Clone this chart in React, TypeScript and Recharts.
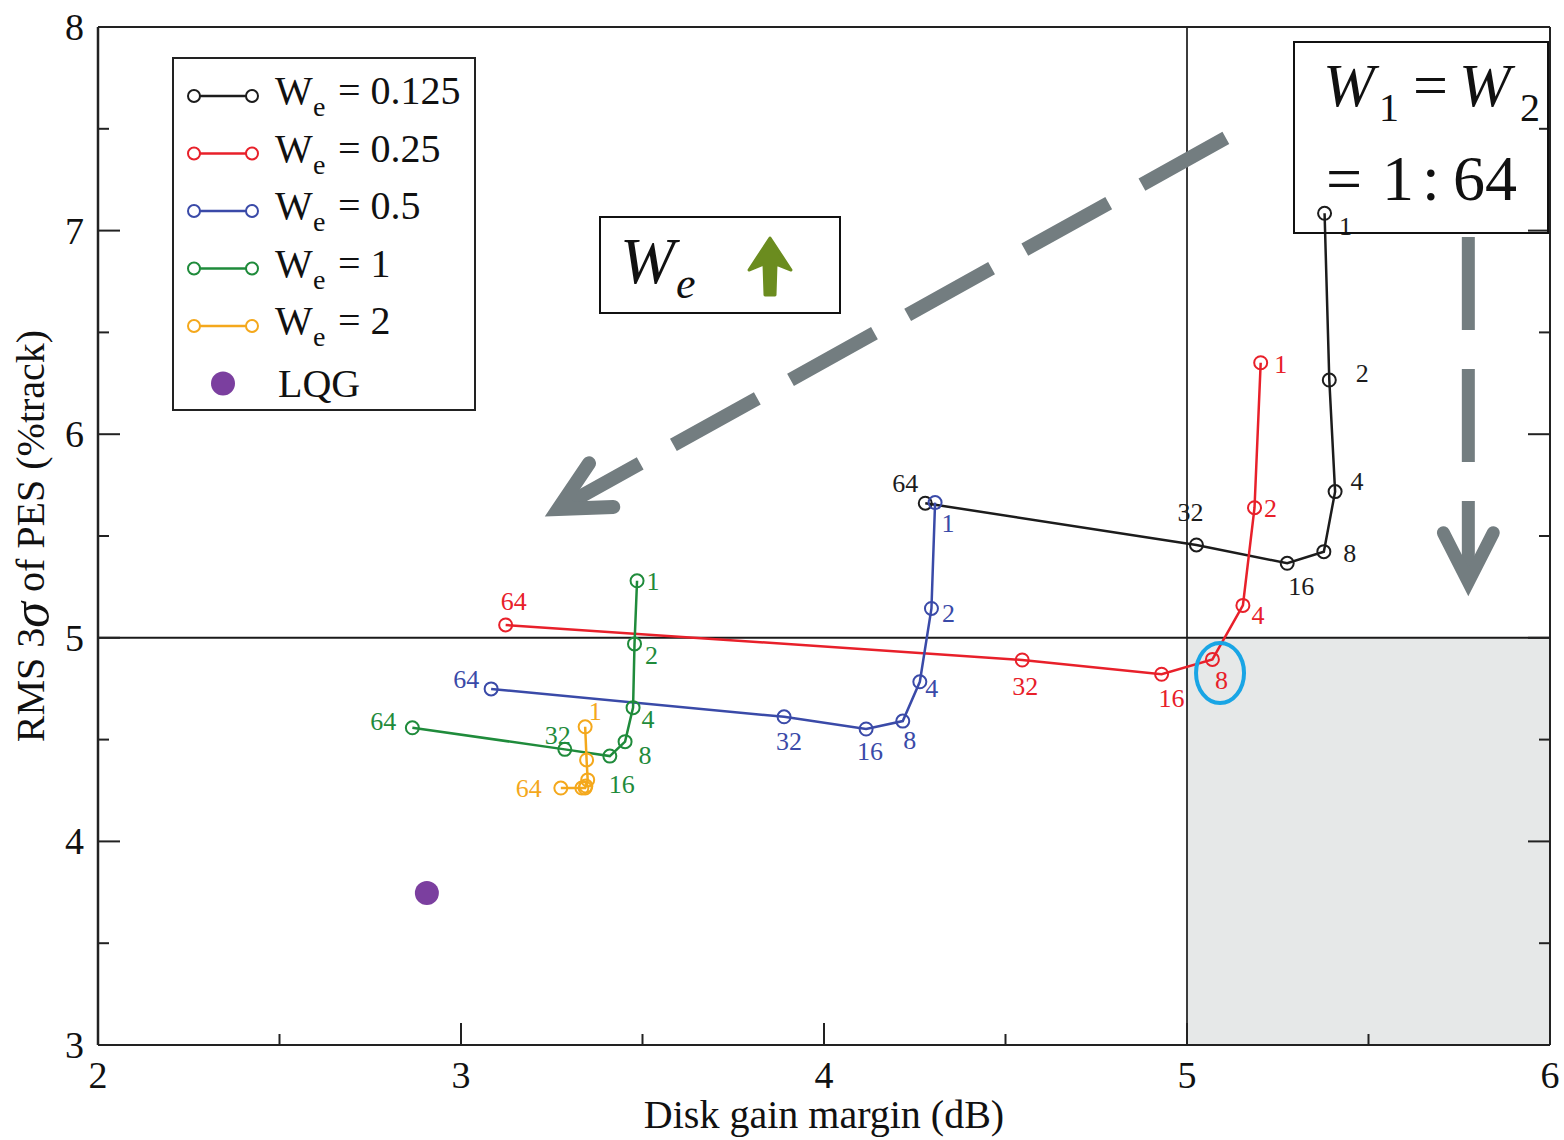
import React from "react";
import {
  ScatterChart,
  Scatter,
  XAxis,
  YAxis,
  ReferenceArea,
  ReferenceLine,
  ReferenceDot,
  Legend,
} from "recharts";

const FONT = '"Liberation Serif", "Times New Roman", serif';

// W1 = W2 weight ratio of each point (1:1 ... 1:64)
const weightLabels = [1, 2, 4, 8, 16, 32, 64];

// We = 0.125
const we0125X = [5.379, 5.392, 5.408, 5.377, 5.276, 5.026, 4.279];
const we0125Y = [7.085, 6.266, 5.718, 5.423, 5.366, 5.456, 5.661];
// We = 0.25
const we025X = [5.203, 5.186, 5.154, 5.07, 4.93, 4.546, 3.123];
const we025Y = [6.351, 5.639, 5.159, 4.894, 4.821, 4.891, 5.063];
// We = 0.5
const we05X = [4.306, 4.296, 4.264, 4.217, 4.116, 3.89, 3.083];
const we05Y = [5.664, 5.144, 4.784, 4.591, 4.552, 4.612, 4.749];
// We = 1
const we1X = [3.485, 3.478, 3.474, 3.452, 3.41, 3.286, 2.866];
const we1Y = [5.28, 4.97, 4.657, 4.49, 4.419, 4.452, 4.558];
// We = 2
const we2X = [3.342, 3.346, 3.349, 3.344, 3.342, 3.333, 3.275];
const we2Y = [4.563, 4.4, 4.302, 4.272, 4.262, 4.262, 4.262];
// LQG
const lqgX = [2.906];
const lqgY = [3.747];

const xTicks = [2, 2.5, 3, 3.5, 4, 4.5, 5, 5.5, 6];
const yTicks = [3, 3.5, 4, 4.5, 5, 5.5, 6, 6.5, 7, 7.5, 8];

// annotation anchors (data coords)
const diagArrowX = [5.107, 3.268];
const diagArrowY = [7.455, 5.633];
const vertArrowX = [5.775, 5.775];
const vertArrowY = [6.969, 5.275];
const chosenX = 5.091;
const chosenY = 4.827;

const GRAY = "#737d80";

const series = [
  { id: "w0125", name: "0.125", color: "#1c1c1c", xs: we0125X, ys: we0125Y },
  { id: "w025", name: "0.25", color: "#e8202a", xs: we025X, ys: we025Y },
  { id: "w05", name: "0.5", color: "#3a4aa8", xs: we05X, ys: we05Y },
  { id: "w1", name: "1", color: "#1f8b3b", xs: we1X, ys: we1Y },
  { id: "w2", name: "2", color: "#f4a81c", xs: we2X, ys: we2Y },
];

// where each point label sits relative to its marker (px)
const labelOffsets: Record<string, Record<number, [number, number]>> = {
  w0125: { 1: [21, 13], 2: [33, -7], 4: [22, -10], 8: [26, 2], 16: [14, 23], 32: [-6, -32], 64: [-20, -20] },
  w025: { 1: [20, 2], 2: [16, 1], 4: [15, 10], 8: [9, 21], 16: [10, 24], 32: [3, 27], 64: [8, -23] },
  w05: { 1: [13, 21], 2: [17, 5], 4: [12, 7], 8: [7, 19], 16: [4, 22], 32: [5, 25], 64: [-25, -9] },
  w1: { 1: [16, 1], 2: [17, 12], 4: [15, 12], 8: [20, 14], 16: [12, 28], 32: [-7, -14], 64: [-29, -6] },
  w2: { 1: [10, -15], 64: [-32, 0] },
};

const toPoints = (xs: number[], ys: number[]) =>
  xs.map((x, i) => ({ x, y: ys[i], n: weightLabels[i] }));

const makeShape = (id: string, color: string) => (props: any) => {
  const { cx, cy, payload } = props;
  const off = labelOffsets[id]?.[payload.n];
  return (
    <g>
      <circle cx={cx} cy={cy} r={6.5} fill="none" stroke={color} strokeWidth={2} />
      {off && (
        <text
          x={cx + off[0]}
          y={cy + off[1]}
          fill={color}
          fontSize={26}
          fontFamily={FONT}
          textAnchor="middle"
          dominantBaseline="central"
        >
          {payload.n}
        </text>
      )}
    </g>
  );
};

const makeTick = (side: string, showLabels: boolean) => (props: any) => {
  const { x, y, payload } = props;
  const v = payload.value;
  const major = Number.isInteger(v);
  const len = major ? 22 : 11;
  let x2 = x;
  let y2 = y;
  if (side === "bottom") y2 = y - len;
  else if (side === "top") y2 = y + len;
  else if (side === "left") x2 = x + len;
  else x2 = x - len;
  let label = null;
  if (showLabels && major) {
    label =
      side === "bottom" ? (
        <text x={x} y={y + 43} textAnchor="middle" fontSize={38} fontFamily={FONT} fill="#111">
          {v}
        </text>
      ) : (
        <text x={x - 14} y={y} textAnchor="end" dominantBaseline="central" fontSize={38} fontFamily={FONT} fill="#111">
          {v}
        </text>
      );
  }
  return (
    <g>
      <line x1={x} y1={y} x2={x2} y2={y2} stroke="#222" strokeWidth={2} />
      {label}
    </g>
  );
};

const xLabel = (props: any) => {
  const vb = props.viewBox;
  return (
    <text x={vb.x + vb.width / 2} y={1128} textAnchor="middle" fontSize={40} fontFamily={FONT} fill="#111">
      Disk gain margin (dB)
    </text>
  );
};

const yLabel = (props: any) => {
  const vb = props.viewBox;
  const cy = vb.y + vb.height / 2;
  return (
    <text
      x={30}
      y={cy}
      transform={`rotate(-90, 30, ${cy})`}
      textAnchor="middle"
      dominantBaseline="central"
      fontSize={40}
      fontFamily={FONT}
      fill="#111"
    >
      RMS 3<tspan fontStyle="italic" fontSize={52}>σ</tspan>
      {"   of PES (%track)"}
    </text>
  );
};

const DashedArrow = (props: any) => {
  const { x1, y1, x2, y2, w, dash } = props;
  const ang = Math.atan2(y1 - y2, x1 - x2);
  const L = 55;
  const a = (27 * Math.PI) / 180;
  const p1 = [x2 + L * Math.cos(ang + a), y2 + L * Math.sin(ang + a)];
  const p2 = [x2 + L * Math.cos(ang - a), y2 + L * Math.sin(ang - a)];
  return (
    <g>
      <line x1={x1} y1={y1} x2={x2} y2={y2} stroke={GRAY} strokeWidth={w} strokeDasharray={dash} />
      <path
        d={`M${p1[0]},${p1[1]} L${x2},${y2} L${p2[0]},${p2[1]}`}
        fill="none"
        stroke={GRAY}
        strokeWidth={w}
        strokeLinecap="round"
      />
    </g>
  );
};

const renderLegend = () => {
  const rows = series.map((s, i) => {
    const cy = 39 + i * 57.5;
    return (
      <g key={s.id}>
        <line x1={22} y1={cy} x2={80} y2={cy} stroke={s.color} strokeWidth={2.5} />
        <circle cx={22} cy={cy} r={6} fill="#fff" stroke={s.color} strokeWidth={2} />
        <circle cx={80} cy={cy} r={6} fill="#fff" stroke={s.color} strokeWidth={2} />
        <text x={103} y={cy + 8} fontSize={40} fontFamily={FONT} fill="#111">W</text>
        <text x={141} y={cy + 20} fontSize={28} fontFamily={FONT} fill="#111">e</text>
        <text x={166} y={cy + 8} fontSize={40} fontFamily={FONT} fill="#111">= {s.name}</text>
      </g>
    );
  });
  const lqgY0 = 39 + 5 * 57.5;
  return (
    <svg width={304} height={354} style={{ display: "block" }}>
      <rect x={1} y={1} width={302} height={352} fill="#fff" stroke="#222" strokeWidth={2} />
      {rows}
      <circle cx={51} cy={lqgY0} r={12} fill="#7b3f9f" />
      <text x={106} y={lqgY0 + 13} fontSize={40} fontFamily={FONT} fill="#111">LQG</text>
    </svg>
  );
};

export default function App() {
  return (
    <div style={{ position: "absolute", left: 0, top: 0, width: 1564, height: 1140, background: "#fff" }}>
      <ScatterChart width={1564} height={1140} margin={{ top: 26, right: 13, bottom: 0, left: 0 }}>
        <ReferenceArea x1={5} x2={6} y1={3} y2={5} fill="#e6e8e8" fillOpacity={1} stroke="none" />
        <ReferenceLine x={5} stroke="#3c3c3c" strokeWidth={2} />
        <ReferenceLine y={5} stroke="#1a1a1a" strokeWidth={2} />

        <XAxis
          dataKey="x"
          type="number"
          domain={[2, 6]}
          ticks={xTicks}
          interval={0}
          allowDataOverflow
          height={95}
          tickSize={0}
          tickMargin={0}
          tickLine={false}
          axisLine={{ stroke: "#222", strokeWidth: 2 }}
          tick={makeTick("bottom", true)}
          label={xLabel}
        />
        <XAxis
          xAxisId="top"
          orientation="top"
          type="number"
          domain={[2, 6]}
          ticks={xTicks}
          interval={0}
          allowDataOverflow
          height={1}
          tickSize={0}
          tickMargin={0}
          tickLine={false}
          axisLine={{ stroke: "#222", strokeWidth: 2 }}
          tick={makeTick("top", false)}
        />
        <YAxis
          dataKey="y"
          type="number"
          domain={[3, 8]}
          ticks={yTicks}
          interval={0}
          allowDataOverflow
          width={98}
          tickSize={0}
          tickMargin={0}
          tickLine={false}
          axisLine={{ stroke: "#222", strokeWidth: 2.5 }}
          tick={makeTick("left", true)}
          label={yLabel}
        />
        <YAxis
          yAxisId="right"
          orientation="right"
          type="number"
          domain={[3, 8]}
          ticks={yTicks}
          interval={0}
          allowDataOverflow
          width={1}
          tickSize={0}
          tickMargin={0}
          tickLine={false}
          axisLine={{ stroke: "#222", strokeWidth: 2 }}
          tick={makeTick("right", false)}
        />

        <ReferenceLine
          segment={[
            { x: diagArrowX[0], y: diagArrowY[0] },
            { x: diagArrowX[1], y: diagArrowY[1] },
          ]}
          ifOverflow="visible"
          shape={(p: any) => <DashedArrow {...p} w={14} dash="96 38" />}
        />
        <ReferenceLine
          segment={[
            { x: vertArrowX[0], y: vertArrowY[0] },
            { x: vertArrowX[1], y: vertArrowY[1] },
          ]}
          ifOverflow="visible"
          shape={(p: any) => <DashedArrow {...p} w={13} dash="93 39" />}
        />

        {series.map((s) => (
          <Scatter
            key={s.id}
            name={s.name}
            data={toPoints(s.xs, s.ys)}
            line={{ stroke: s.color, strokeWidth: 2.5 }}
            lineType="joint"
            shape={makeShape(s.id, s.color)}
            isAnimationActive={false}
          />
        ))}
        <Scatter
          name="LQG"
          data={lqgX.map((x, i) => ({ x, y: lqgY[i] }))}
          shape={(p: any) => <circle cx={p.cx} cy={p.cy} r={12} fill="#7b3f9f" />}
          isAnimationActive={false}
        />

        <ReferenceDot
          x={chosenX}
          y={chosenY}
          ifOverflow="visible"
          shape={(p: any) => (
            <ellipse cx={p.cx} cy={p.cy} rx={24} ry={30} fill="none" stroke="#19a5e5" strokeWidth={4} />
          )}
        />

        <Legend
          content={renderLegend}
          layout="horizontal"
          verticalAlign="middle"
          align="center"
          wrapperStyle={{ left: 172, top: 57, width: 304, height: 354 }}
        />
      </ScatterChart>

      <svg
        width={1564}
        height={1140}
        style={{ position: "absolute", left: 0, top: 0, pointerEvents: "none" }}
      >
        {/* We up box */}
        <rect x={600} y={217} width={240} height={96} fill="#fff" stroke="#111" strokeWidth={2} />
        <text x={620} y={283} fontSize={66} fontStyle="italic" fontFamily={FONT} fill="#111">W</text>
        <text x={676} y={298} fontSize={44} fontStyle="italic" fontFamily={FONT} fill="#111">e</text>
        <path
          d="M770,238 L791,270 L776,264 L775,295 L765,295 L764,264 L749,270 Z"
          fill="#6b8c1f"
          stroke="#6b8c1f"
          strokeWidth={3}
          strokeLinejoin="round"
        />

        {/* W1 = W2 box */}
        <rect x={1294} y={42} width={254} height={191} fill="none" stroke="#111" strokeWidth={2} />
        <text x={1323} y={106} fontSize={62} fontStyle="italic" fontFamily={FONT} fill="#111">W</text>
        <text x={1379} y={121} fontSize={40} fontFamily={FONT} fill="#111">1</text>
        <text x={1413} y={106} fontSize={62} fontFamily={FONT} fill="#111">=</text>
        <text x={1459} y={106} fontSize={62} fontStyle="italic" fontFamily={FONT} fill="#111">W</text>
        <text x={1520} y={121} fontSize={40} fontFamily={FONT} fill="#111">2</text>
        <text x={1326} y={200} fontSize={64} fontFamily={FONT} fill="#111">=</text>
        <text x={1382} y={200} fontSize={64} fontFamily={FONT} fill="#111">1</text>
        <text x={1422} y={200} fontSize={64} fontFamily={FONT} fill="#111">:</text>
        <text x={1453} y={200} fontSize={64} fontFamily={FONT} fill="#111">64</text>
      </svg>
    </div>
  );
}
